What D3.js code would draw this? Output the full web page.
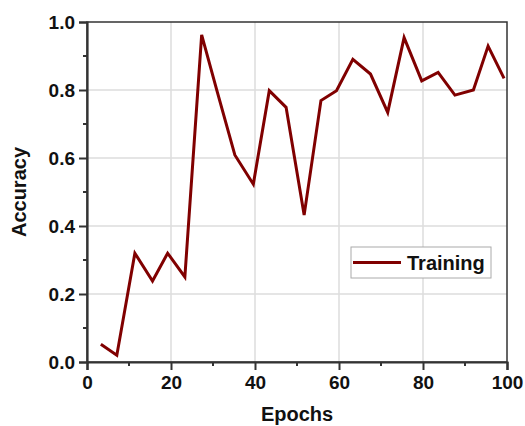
<!DOCTYPE html>
<html>
<head>
<meta charset="utf-8">
<script src="https://cdn.jsdelivr.net/npm/d3@7"></script>
<style>
  html, body { margin: 0; padding: 0; background: #fff; }
  svg { display: block; font-family: "Liberation Sans", Arial, sans-serif; }
</style>
</head>
<body>
<svg id="chart" width="525" height="426"></svg>
<script>
const epochs = [3.3, 7.1, 11.4, 15.6, 19.2, 23.3, 27.3, 31.0, 35.2, 39.6, 43.4, 47.4, 51.7, 55.7, 59.4, 63.3, 67.5, 71.6, 75.5, 79.7, 83.6, 87.6, 92.0, 95.5, 99.3];
const accuracy = [0.052, 0.02, 0.32, 0.238, 0.32, 0.25, 0.962, 0.795, 0.609, 0.523, 0.798, 0.749, 0.432, 0.769, 0.798, 0.89, 0.847, 0.734, 0.954, 0.827, 0.852, 0.785, 0.8, 0.929, 0.834];
const xTicks = [0, 20, 40, 60, 80, 100];
const yTicks = [0.0, 0.2, 0.4, 0.6, 0.8, 1.0];
const xMinor = [10, 30, 50, 70, 90];
const yMinor = [0.1, 0.3, 0.5, 0.7, 0.9];
const seriesName = "Training";
const xTitle = "Epochs";
const yTitle = "Accuracy";

const svg = d3.select("#chart");
const W = 525, H = 426;
const m = {left: 87, right: 18, top: 22, bottom: 64};
const pw = W - m.left - m.right, ph = H - m.top - m.bottom;

const x = d3.scaleLinear().domain([0, 100]).range([m.left, m.left + pw]);
const y = d3.scaleLinear().domain([0, 1]).range([m.top + ph, m.top]);

const axisColor = "#333";
const gridColor = "#dcdcdc";

// grid
const grid = svg.append("g");
grid.selectAll("line.gx").data(xTicks.slice(1, -1)).join("line")
  .attr("x1", d => x(d)).attr("x2", d => x(d))
  .attr("y1", m.top).attr("y2", m.top + ph)
  .attr("stroke", gridColor).attr("stroke-width", 1.5);
grid.selectAll("line.gy").data(yTicks.slice(1, -1)).join("line")
  .attr("y1", d => y(d)).attr("y2", d => y(d))
  .attr("x1", m.left).attr("x2", m.left + pw)
  .attr("stroke", gridColor).attr("stroke-width", 1.5);

// frame (top, right)
svg.append("rect")
  .attr("x", m.left).attr("y", m.top).attr("width", pw).attr("height", ph)
  .attr("fill", "none").attr("stroke", axisColor).attr("stroke-width", 1.5);

// x axis
const xAxis = svg.append("g").attr("transform", `translate(0,${m.top + ph})`)
  .call(d3.axisBottom(x).tickValues(xTicks).tickFormat(d3.format("d")).tickSize(8).tickPadding(6));
xAxis.append("g").selectAll("line").data(xMinor).join("line")
  .attr("x1", d => x(d)).attr("x2", d => x(d)).attr("y1", 0).attr("y2", 4)
  .attr("stroke", axisColor).attr("stroke-width", 2);

// y axis
const yAxis = svg.append("g").attr("transform", `translate(${m.left},0)`)
  .call(d3.axisLeft(y).tickValues(yTicks).tickFormat(d3.format(".1f")).tickSize(8).tickPadding(4));
yAxis.append("g").selectAll("line").data(yMinor).join("line")
  .attr("y1", d => y(d)).attr("y2", d => y(d)).attr("x1", 0).attr("x2", -4)
  .attr("stroke", axisColor).attr("stroke-width", 2);

[xAxis, yAxis].forEach(g => {
  g.select(".domain").attr("stroke", axisColor).attr("stroke-width", 2.2);
  g.selectAll(".tick line").attr("stroke", axisColor).attr("stroke-width", 2);
  g.selectAll(".tick text").attr("fill", "#111").attr("font-size", 19).attr("font-weight", "bold")
    .attr("font-family", "'Liberation Sans', Arial, sans-serif");
});
xAxis.selectAll(".tick text").attr("dy", "0.71em");

// line
const line = d3.line().x((d, i) => x(epochs[i])).y(d => y(d));
svg.append("path").datum(accuracy)
  .attr("d", line)
  .attr("fill", "none").attr("stroke", "#800000").attr("stroke-width", 3)
  .attr("stroke-linejoin", "miter");

// axis titles
svg.append("text")
  .attr("x", m.left + pw / 2).attr("y", 421)
  .attr("text-anchor", "middle").attr("font-size", 20).attr("font-weight", "bold").attr("fill", "#111")
  .text(xTitle);
svg.append("text")
  .attr("transform", `translate(26,${m.top + ph / 2}) rotate(-90)`)
  .attr("text-anchor", "middle").attr("font-size", 20).attr("font-weight", "bold").attr("fill", "#111")
  .text(yTitle);

// legend
const lg = svg.append("g");
lg.append("rect").attr("x", 351).attr("y", 247).attr("width", 140).attr("height", 31)
  .attr("fill", "#fff").attr("stroke", "#aaa").attr("stroke-width", 1);
lg.append("line").attr("x1", 353).attr("x2", 401).attr("y1", 262.5).attr("y2", 262.5)
  .attr("stroke", "#800000").attr("stroke-width", 3);
lg.append("text").attr("x", 407).attr("y", 270)
  .attr("font-size", 20).attr("font-weight", "bold").attr("fill", "#111")
  .text(seriesName);
</script>
</body>
</html>
